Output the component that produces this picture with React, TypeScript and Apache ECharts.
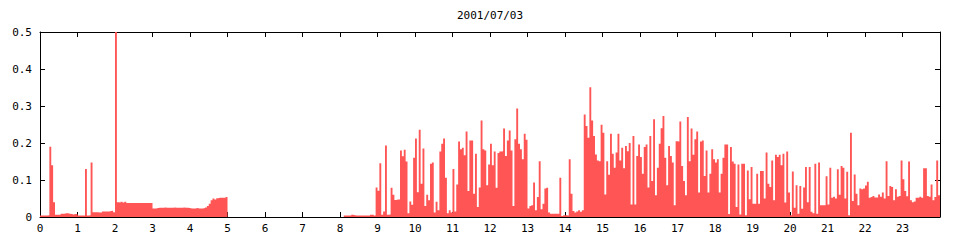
import React, { useEffect, useRef } from "react";
import * as echarts from "echarts";

const chartTitle = "2001/07/03";
const hourLabels = ["0","1","2","3","4","5","6","7","8","9","10","11","12","13","14","15","16","17","18","19","20","21","22","23"];
const yTickLabels = ["0", "0.1", "0.2", "0.3", "0.4", "0.5"];

// 3-minute samples for each hour of the day
const h00 = [0.004,0.004,0.004,0.004,0.005,0.19,0.14,0.04,0.006,0.006,0.006,0.009,0.009,0.01,0.01,0.009,0.008,0.007,0.008,0.008];
const h01 = [0.004,0.004,0.004,0.004,0.13,0.004,0.005,0.147,0.013,0.013,0.013,0.012,0.012,0.015,0.015,0.015,0.015,0.016,0.017,0.013];
const h02 = [0.5,0.04,0.039,0.041,0.039,0.041,0.038,0.038,0.038,0.038,0.038,0.038,0.038,0.038,0.038,0.038,0.038,0.038,0.038,0.038];
const h03 = [0.023,0.023,0.024,0.025,0.025,0.025,0.026,0.025,0.025,0.025,0.025,0.026,0.025,0.025,0.025,0.025,0.026,0.025,0.025,0.024];
const h04 = [0.023,0.023,0.023,0.024,0.023,0.023,0.023,0.024,0.026,0.03,0.036,0.045,0.05,0.047,0.051,0.052,0.052,0.052,0.052,0.054];
const h05 = [0,0,0,0,0,0,0,0,0,0,0,0,0,0,0,0,0,0,0,0];
const h06 = [0,0,0,0,0,0,0,0,0,0,0,0,0,0,0,0,0,0,0,0];
const h07 = [0,0,0,0,0,0,0,0,0,0,0,0,0,0,0,0,0,0,0,0];
const h08 = [0,0,0.004,0.004,0.004,0.004,0.006,0.005,0.004,0.004,0.004,0.004,0.004,0.004,0.004,0.004,0.006,0.006,0.004,0.08];
const h09 = [0.071,0.145,0.006,0.015,0.193,0.006,0.007,0.079,0.06,0.046,0.047,0.047,0.18,0.164,0.182,0.15,0.01,0.042,0.033,0.16];
const h10 = [0.212,0.067,0.236,0.09,0.185,0.03,0.06,0.045,0.144,0.147,0.012,0.041,0.018,0.177,0.198,0.212,0.106,0.01,0.018,0.012];
const h11 = [0.13,0.015,0.088,0.204,0.183,0.187,0.167,0.231,0.07,0.207,0.207,0.063,0.171,0.027,0.08,0.261,0.183,0.18,0.086,0.142];
const h12 = [0.198,0.14,0.177,0.079,0.173,0.177,0.178,0.239,0.165,0.207,0.234,0.18,0.03,0.21,0.293,0.198,0.183,0.156,0.225,0.209];
const h13 = [0.023,0.03,0.032,0.093,0.018,0.054,0.151,0.021,0.036,0.077,0.079,0.012,0.009,0.009,0.009,0.009,0.009,0.106,0.003,0.005];
const h14 = [0.005,0.004,0.156,0.063,0.016,0.012,0.015,0.018,0.014,0.018,0.277,0.246,0.214,0.351,0.261,0.219,0.169,0.153,0.151,0.249];
const h15 = [0.228,0.061,0.151,0.114,0.225,0.171,0.133,0.174,0.225,0.153,0.187,0.132,0.192,0.178,0.2,0.034,0.219,0.034,0.165,0.196];
const h16 = [0.162,0.117,0.189,0.196,0.08,0.219,0.097,0.264,0.059,0.133,0.198,0.24,0.273,0.16,0.086,0.192,0.165,0.147,0.032,0.205];
const h17 = [0.204,0.258,0.138,0.097,0.059,0.27,0.151,0.239,0.168,0.21,0.231,0.066,0.204,0.207,0.111,0.18,0.066,0.117,0.183,0.156];
const h18 = [0.147,0.156,0.066,0.117,0.16,0.196,0.196,0.008,0.189,0.15,0.144,0.027,0.142,0.007,0.144,0.144,0.005,0.126,0.048,0.135];
const h19 = [0.036,0.036,0.117,0.036,0.124,0.124,0.05,0.174,0.09,0.081,0.153,0.045,0.168,0.162,0.168,0.14,0.171,0.039,0.177,0.066];
const h20 = [0.005,0.123,0.025,0.086,0.009,0.084,0.022,0.08,0.135,0.04,0.135,0.014,0.01,0.144,0.009,0.147,0.032,0.032,0.032,0.11];
const h21 = [0.034,0.133,0.052,0.055,0.05,0.129,0.06,0.138,0.133,0.05,0.122,0.005,0.228,0.043,0.115,0.063,0.032,0.077,0.075,0.077];
const h22 = [0.085,0.095,0.052,0.054,0.057,0.053,0.053,0.061,0.055,0.066,0.05,0.151,0.057,0.084,0.081,0.045,0.075,0.055,0.057,0.153];
const h23 = [0.102,0.07,0.056,0.15,0.045,0.04,0.042,0.052,0.052,0.055,0.052,0.132,0.132,0.057,0.055,0.088,0.045,0.054,0.153,0.059];

const FONT = '"DejaVu Sans Mono", monospace';

export default function App() {
  const ref = useRef<HTMLDivElement>(null);
  useEffect(() => {
    if (!ref.current) return;
    const chart = echarts.init(ref.current, null, { renderer: "svg" });
    const hours = [h00,h01,h02,h03,h04,h05,h06,h07,h08,h09,h10,h11,h12,h13,h14,h15,h16,h17,h18,h19,h20,h21,h22,h23];
    const points: [number, number][] = [];
    hours.forEach((arr, h) => {
      arr.forEach((v, k) => points.push([h + k / arr.length, v]));
    });
    points.push([hours.length, points[points.length - 1][1]]);

    const axisLine = { show: true, onZero: false, lineStyle: { color: "#000", width: 1 } };
    const axisTick = { show: true, inside: true, length: 5, lineStyle: { color: "#000", width: 1 } };

    chart.setOption({
      animation: false,
      backgroundColor: "#fff",
      graphic: [
        {
          type: "text",
          x: 490,
          y: 15,
          style: {
            text: chartTitle,
            fill: "#000",
            font: `11px ${FONT}`,
            textAlign: "center",
            textVerticalAlign: "middle",
          },
        },
      ],
      grid: { left: 40, right: 20, top: 32, bottom: 23, containLabel: false },
      xAxis: [
        {
          type: "value",
          min: 0,
          max: 24,
          interval: 1,
          position: "bottom",
          axisLine,
          axisTick,
          splitLine: { show: false },
          axisLabel: {
            margin: 6,
            color: "#000",
            fontFamily: FONT,
            fontSize: 11,
            formatter: (v: number) => hourLabels[Math.round(v)] ?? "",
          },
        },
        {
          type: "value",
          min: 0,
          max: 24,
          interval: 1,
          position: "top",
          axisLine,
          axisTick,
          splitLine: { show: false },
          axisLabel: { show: false },
        },
      ],
      yAxis: [
        {
          type: "value",
          min: 0,
          max: 0.5,
          interval: 0.1,
          position: "left",
          axisLine,
          axisTick,
          splitLine: { show: false },
          axisLabel: {
            margin: 8,
            color: "#000",
            fontFamily: FONT,
            fontSize: 11,
            formatter: (v: number) => yTickLabels[Math.round(v * 10)] ?? "",
          },
        },
        {
          type: "value",
          min: 0,
          max: 0.5,
          interval: 0.1,
          position: "right",
          axisLine,
          axisTick,
          splitLine: { show: false },
          axisLabel: { show: false },
        },
      ],
      series: [
        {
          type: "line",
          xAxisIndex: 0,
          yAxisIndex: 0,
          step: "end",
          symbol: "none",
          data: points,
          lineStyle: { width: 0, opacity: 0 },
          areaStyle: { color: "#ff5555", opacity: 1 },
          silent: true,
          z: 3,
        },
      ],
    });
    return () => chart.dispose();
  }, []);
  return (
    <div
      ref={ref}
      style={{ position: "absolute", left: 0, top: 0, width: 960, height: 240 }}
    />
  );
}
